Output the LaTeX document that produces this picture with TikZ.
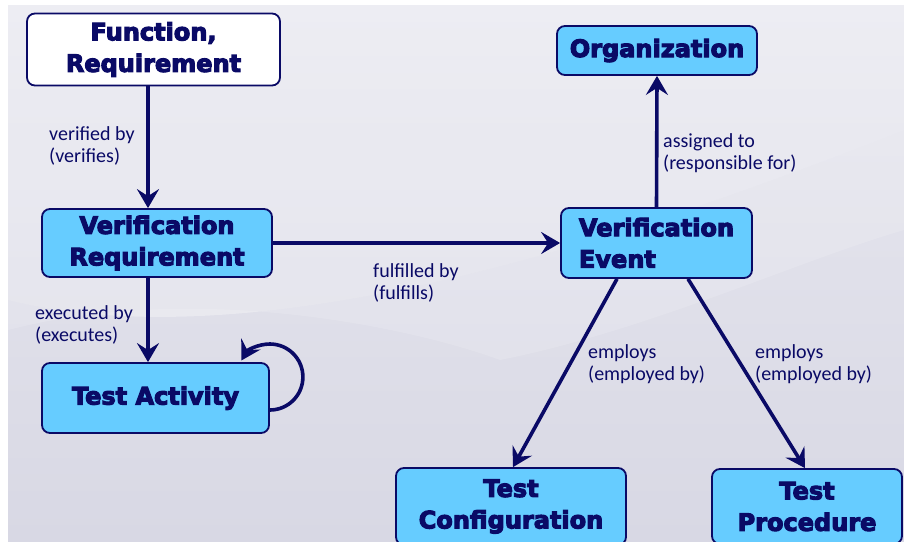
\documentclass[tikz,border=0pt]{standalone}
\usepackage{fontspec}
\setmainfont{Carlito}
\newfontfamily\boxfont{DejaVu Sans}[FakeBold=4.5]
\usetikzlibrary{arrows.meta,calc}
\definecolor{navy}{RGB}{10,10,102}
\definecolor{boxblue}{RGB}{102,204,255}
\definecolor{bgA}{RGB}{232,232,240}
\definecolor{bgB}{RGB}{216,216,228}
\tikzset{
  box/.style={draw=navy, line width=1.8pt, rounded corners=8pt, fill=boxblue,
    inner sep=0pt, align=center, text=navy,
    font=\boxfont\bfseries\fontsize{24}{31.5}\selectfont},
  lbl/.style={anchor=north west, inner sep=0pt, align=left, text=navy,
    font=\fontsize{20}{22.5}\selectfont},
  conn/.style={draw=navy, line width=3.6pt,
    -{Stealth[length=19pt,width=22pt,inset=7pt]}},
}
\begin{document}
\begin{tikzpicture}[x=1pt,y=1pt]
\useasboundingbox (0,0) rectangle (904,-541);
\clip (0,0) rectangle (904,-541);
\fill[white] (0,0) rectangle (904,-541);
\shade[top color=bgA, bottom color=bgB] (8,-5) rectangle (904,-541);
% light swoosh
\fill[white, opacity=0.22] (8,-300) .. controls (250,-360) and (600,-250) .. (904,-130)
  -- (904,-5) -- (8,-5) -- cycle;
\fill[white, opacity=0.15] (8,-330) .. controls (200,-280) and (420,-330) .. (500,-360)
  .. controls (650,-330) and (800,-260) .. (904,-230) -- (904,-130)
  .. controls (600,-250) and (250,-360) .. (8,-300) -- cycle;

% nodes
\node[box, fill=white, minimum width=253pt, minimum height=72pt] (fr) at (153.5,-49.5) {Function,\\Requirement};
\node[box, minimum width=230pt, minimum height=68pt] (vr) at (157,-243) {Verification\\Requirement};
\node[box, minimum width=227pt, minimum height=70pt] (ta) at (155.5,-398) {Test Activity};
\node[box, minimum width=200pt, minimum height=49pt] (org) at (657,-50.5) {Organization};
\node[box, align=left, minimum width=191pt, minimum height=70pt] (ve) at (656.5,-243) {Verification\\Event};
\node[box, minimum width=230pt, minimum height=77pt] (tc) at (511,-506.5) {Test\\Configuration};
\node[box, minimum width=190pt, minimum height=75pt] (tp) at (807,-506.5) {Test\\Procedure};

% connectors
\draw[conn] (fr.south -| 148,0) -- (vr.north -| 148,0);
\draw[conn] (vr.south -| 148,0) -- (ta.north -| 148,0);
\draw[conn] (vr.east) -- (ve.west);
\draw[conn] (ve.north) -- (org.south);
\draw[conn] (ve.south -| 617,0) -- (tc.north -| 513,0);
\draw[conn] (ve.south -| 688,0) -- (tp.north -| 805,0);
\draw[conn] ([yshift=-12pt]ta.east) arc[start angle=-90, end angle=150, radius=33pt];

% labels
\node[lbl] (l1) at (49,-126) {verified by\\(verifies)};
\node[lbl] (l2) at (35,-305) {executed by\\(executes)};
\node[lbl] (l3) at (373,-263) {fulfilled by\\(fulfills)};
\node[lbl] (l4) at (663,-133) {assigned to\\(responsible for)};
\node[lbl] (l5) at (588,-344) {employs\\(employed by)};
\node[lbl] (l6) at (755,-344) {employs\\(employed by)};
\end{tikzpicture}
\end{document}
